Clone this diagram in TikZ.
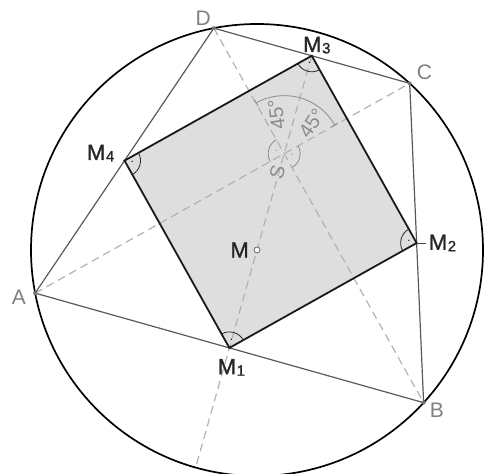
\documentclass[tikz,border=0pt]{standalone}
\usepackage{fontspec}
\setmainfont{Liberation Sans}
\newfontfamily\mfont[FakeBold=1.2]{Liberation Sans}
\usetikzlibrary{arrows.meta,positioning,calc,angles}
\newcommand{\mlab}[1]{M\kern0.6pt{\fontsize{15}{15}\selectfont\raisebox{-1.5pt}{#1}}}
\tikzset{
  circ/.style={line width=1.7pt, draw=black},
  side/.style={line width=1.2pt, draw=black!65},
  sqedge/.style={line width=1.8pt, draw=black!90, line join=miter},
  sqfill/.style={fill=black!13},
  aux/.style={line width=1.2pt, draw=black!30, dash pattern=on 8pt off 5pt},
  ptlab/.style={inner sep=0pt, text=black!50, font=\fontsize{21}{21}\selectfont},
  mlabel/.style={inner sep=0pt, text=black!85, font=\mfont\fontsize{22}{22}\selectfont},
  anglab/.style={inner sep=0pt, text=black!45, font=\fontsize{20}{20}\selectfont},
  rangle/.style={
    draw=black!85,
    line width=0.8pt,
    angle radius=16pt,
    angle eccentricity=0.5,
    pic text={\textbullet},
    pic text options={font=\fontsize{5}{5}\selectfont}
  },
  srangle/.style={
    rangle,
    draw=black!45,
    angle radius=16pt,
    pic text options={font=\fontsize{5}{5}\selectfont, text=black!45}
  },
  halfarc/.style={
    draw=black!45,
    line width=0.8pt,
    angle radius=58pt,
    {Bar[width=7pt]}-{Bar[width=7pt]}
  },
  dot/.style={fill=black!55}
}
\begin{document}
\begin{tikzpicture}[x=1pt, y=1pt]
  \useasboundingbox (0,0) rectangle (493,474);

  % circle and the four points on it
  \coordinate (M) at (257,224);
  \coordinate (A) at ($(M)+(191:226)$);
  \coordinate (B) at ($(M)+(317.5:226)$);
  \coordinate (C) at ($(M)+(47.5:226)$);
  \coordinate (D) at ($(M)+(101:226)$);

  % midpoints of the sides
  \coordinate (M1) at ($(A)!0.5!(B)$);
  \coordinate (M2) at ($(B)!0.5!(C)$);
  \coordinate (M3) at ($(C)!0.5!(D)$);
  \coordinate (M4) at ($(D)!0.5!(A)$);
  \coordinate (S) at (intersection of A--C and B--D);
  \coordinate (E) at ($(M3)!1.41!(M1)$);

  \fill[sqfill] (M1) -- (M2) -- (M3) -- (M4) -- cycle;

  \draw[aux] (A) -- (C);
  \draw[aux] (D) -- (B);
  \draw[aux] (M3) -- (E);

  \draw[circ] (M) circle (226);
  \draw[side] (A) -- (B) -- (C) -- (D) -- cycle;
  \draw[sqedge] (M1) -- (M2) -- (M3) -- (M4) -- cycle;

  \pic[rangle] {angle=M2--M1--M4};
  \pic[rangle] {angle=M3--M2--M1};
  \pic[rangle] {angle=M4--M3--M2};
  \pic[rangle] {angle=M1--M4--M3};

  \pic[srangle] {angle=D--S--A};
  \pic[srangle] {angle=B--S--C};
  \pic[halfarc] {angle=C--S--D};

  \node[anglab, rotate=98] (deg1) at ($(S)+(101:40)$) {45°};
  \node[anglab, rotate=56] (deg2) at ($(S)+(48:41)$) {45°};
  \node[anglab, rotate=74] (slab) at ($(S)+(-110:20)$) {S};

  \fill[dot] (A) circle (2);
  \fill[dot] (B) circle (2);
  \fill[dot] (C) circle (2);
  \fill[dot] (D) circle (2);
  \draw[black!60, line width=0.8pt, fill=white] (M) circle (3);

  \node[ptlab, left=9pt of A, yshift=-4pt] (alab) {A};
  \node[ptlab, below right=0pt and 6pt of B] (blab) {B};
  \node[ptlab, above right=3pt and 7pt of C] (clab) {C};
  \node[ptlab, above left=2pt and 3pt of D] (dlab) {D};

  \node[mlabel, left=8pt of M] (mlab) {M};
  \node[mlabel, below=11pt of M1, xshift=2pt] (m1lab) {\mlab{1}};
  \node[mlabel, right=12pt of M2] (m2lab) {\mlab{2}};
  \node[mlabel, above=2pt of M3, xshift=5pt] (m3lab) {\mlab{3}};
  \node[mlabel, above left=-1pt and 10pt of M4] (m4lab) {\mlab{4}};

  \draw[black!70, line width=0.8pt, shorten >=3pt] (M2) -- (m2lab.west);
\end{tikzpicture}
\end{document}
